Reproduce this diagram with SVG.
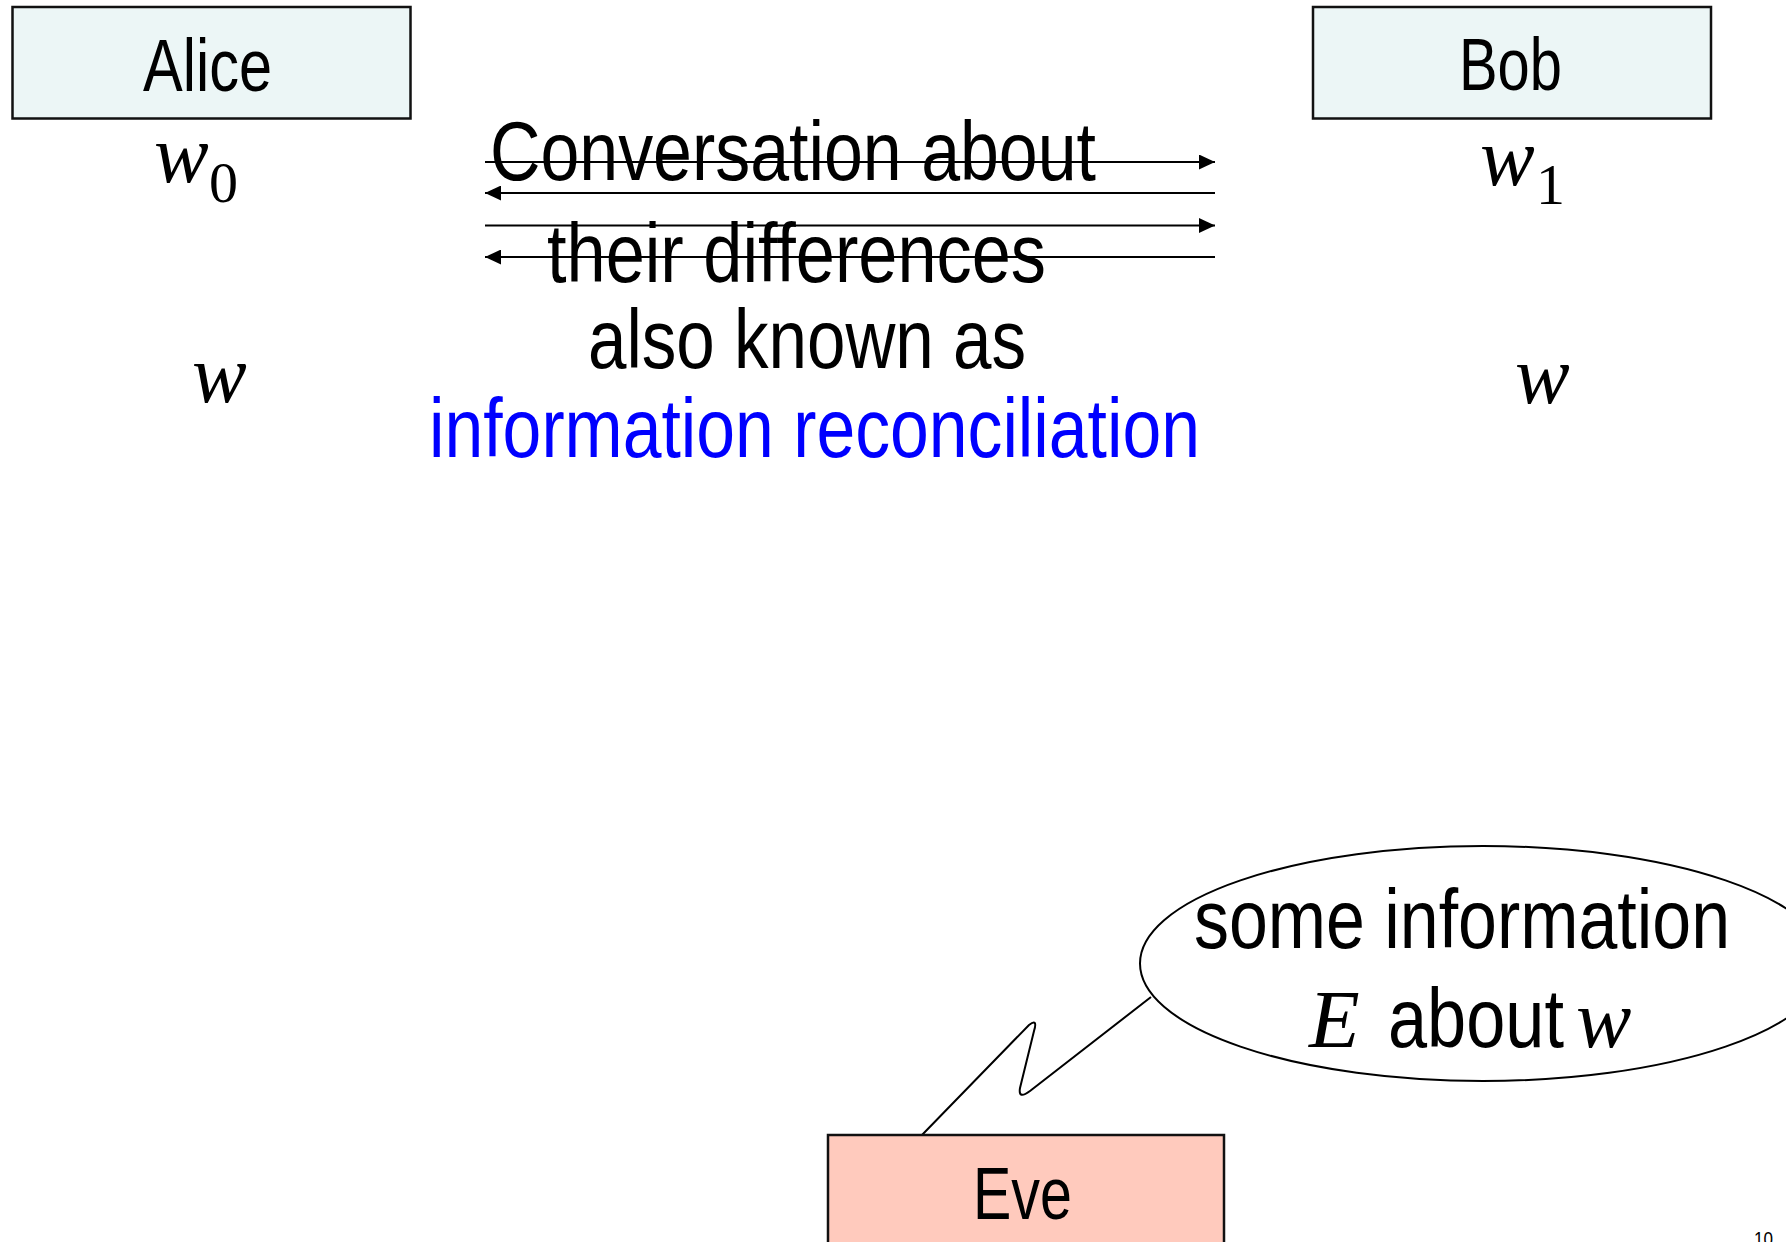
<svg xmlns="http://www.w3.org/2000/svg" width="1786" height="1242" viewBox="0 0 1786 1242">
  <style>
    .box { stroke: #111; stroke-width: 2.5; }
    .sans { font-family: "Liberation Sans Narrow", "Liberation Sans", Arial, sans-serif; fill: #000; }
    .math { font-family: "Liberation Serif", "Times New Roman", serif; font-style: italic; fill: #000; }
    .sub { font-family: "Liberation Serif", "Times New Roman", serif; fill: #000; }
    .conn { stroke: #000; stroke-width: 2; fill: none; }
  </style>
  <defs>
    <marker id="arrow" markerUnits="userSpaceOnUse" markerWidth="16" markerHeight="15" refX="16" refY="7.5" orient="auto">
      <path d="M0,0 L16,7.5 L0,15 Z" fill="#000"/>
    </marker>
  </defs>
  <rect width="1786" height="1242" fill="#fff"/>

  <g id="node-alice">
    <rect class="box" x="12.5" y="7" width="398" height="111.5" fill="#ECF6F6"/>
    <text class="sans" x="143" y="91" font-size="75" textLength="129" lengthAdjust="spacingAndGlyphs">Alice</text>
    <text class="math" x="154" y="182" font-size="82">w</text>
    <text class="sub" x="209" y="202" font-size="58">0</text>
    <text class="math" x="192" y="402" font-size="82">w</text>
  </g>

  <g id="node-bob">
    <rect class="box" x="1313" y="7" width="398" height="111.5" fill="#ECF6F6"/>
    <text class="sans" x="1459" y="90" font-size="75" textLength="103" lengthAdjust="spacingAndGlyphs">Bob</text>
    <text class="math" x="1480" y="185" font-size="82">w</text>
    <text class="sub" x="1536" y="204" font-size="58">1</text>
    <text class="math" x="1515" y="403" font-size="82">w</text>
  </g>

  <g id="connectors">
    <line class="conn" x1="485" y1="162" x2="1215" y2="162" marker-end="url(#arrow)"/>
    <line class="conn" x1="1215" y1="193" x2="485" y2="193" marker-end="url(#arrow)"/>
    <line class="conn" x1="485" y1="225.5" x2="1215" y2="225.5" marker-end="url(#arrow)"/>
    <line class="conn" x1="1215" y1="257" x2="485" y2="257" marker-end="url(#arrow)"/>
  </g>

  <g id="conversation-label">
    <text class="sans" x="490" y="180" font-size="84" textLength="606" lengthAdjust="spacingAndGlyphs">Conversation about</text>
    <text class="sans" x="547" y="282" font-size="84" textLength="499" lengthAdjust="spacingAndGlyphs">their differences</text>
    <text class="sans" x="588" y="368" font-size="84" textLength="438" lengthAdjust="spacingAndGlyphs">also known as</text>
    <text class="sans" x="429" y="457" font-size="84" textLength="771" lengthAdjust="spacingAndGlyphs" style="fill:#0000FF">information reconciliation</text>
  </g>

  <g id="node-eve-callout">
    <ellipse cx="1483" cy="963.5" rx="343" ry="117.5" fill="#fff" stroke="#000" stroke-width="2"/>
    <path class="conn" d="M1151,997 L1030,1091 Q1018,1100 1020,1088 L1034,1031 Q1038,1018 1029,1025 L921,1136"/>
    <text class="sans" x="1194" y="948" font-size="84" textLength="536" lengthAdjust="spacingAndGlyphs">some information</text>
    <text class="math" x="1309" y="1047" font-size="83">E</text>
    <text class="sans" x="1388" y="1047" font-size="84" textLength="176" lengthAdjust="spacingAndGlyphs">about</text>
    <text class="math" x="1576" y="1047" font-size="83">w</text>
  </g>

  <g id="node-eve">
    <rect class="box" x="828" y="1135" width="396" height="130" fill="#FFCABD"/>
    <text class="sans" x="973" y="1219" font-size="75" textLength="99" lengthAdjust="spacingAndGlyphs">Eve</text>
  </g>

  <text class="sans" x="1754" y="1246" font-size="20" textLength="19" lengthAdjust="spacingAndGlyphs">10</text>
</svg>
